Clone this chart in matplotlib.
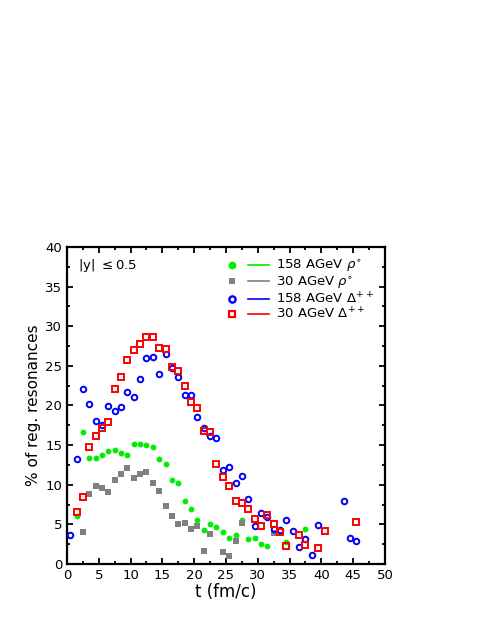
import matplotlib
matplotlib.use('Agg')
import matplotlib.pyplot as plt
from matplotlib.lines import Line2D
from matplotlib.legend_handler import HandlerTuple
from matplotlib.ticker import MultipleLocator

# 158 AGeV rho0 (green filled circles)
t_rho158 = [1.5, 2.5, 3.5, 4.5, 5.5, 6.5, 7.5, 8.5, 9.5, 10.5, 11.5, 12.5, 13.5, 14.5, 15.5,
            16.5, 17.5, 18.5, 19.5, 20.5, 21.5, 22.5, 23.5, 24.5, 25.5, 26.5, 27.5, 28.5,
            29.5, 30.5, 31.5, 34.5, 37.5]
rho158 = [6.1, 16.6, 13.4, 13.4, 13.7, 14.2, 14.35, 14.0, 13.7, 15.2, 15.1, 15.0, 14.8, 13.3, 12.6,
          10.6, 10.2, 8.0, 7.0, 5.55, 4.3, 5.1, 4.7, 4.0, 3.3, 3.7, 5.55, 3.2,
          3.3, 2.5, 2.3, 2.8, 4.4]

# 30 AGeV rho0 (grey filled squares)
t_rho30 = [2.5, 3.5, 4.5, 5.5, 6.5, 7.5, 8.5, 9.5, 10.5, 11.5, 12.5, 13.5, 14.5, 15.5,
           16.5, 17.5, 18.5, 19.5, 20.5, 21.5, 22.5, 24.5, 25.5, 26.5, 27.5, 32.5]
rho30 = [4.1, 8.8, 9.85, 9.55, 9.1, 10.6, 11.4, 12.1, 10.9, 11.3, 11.6, 10.2, 9.2, 7.3,
         6.05, 5.1, 5.2, 4.4, 4.75, 1.7, 3.75, 1.5, 0.95, 2.85, 5.2, 3.95]

# 158 AGeV Delta++ (blue open circles)
t_del158 = [0.5, 1.5, 2.5, 3.5, 4.5, 5.5, 6.5, 7.5, 8.5, 9.5, 10.5, 11.5, 12.5, 13.5, 14.5,
            15.5, 16.5, 17.5, 18.5, 19.5, 20.5, 21.5, 22.5, 23.5, 24.5, 25.5, 26.5, 27.5,
            28.5, 29.5, 30.5, 31.5, 32.5, 33.5, 34.5, 35.5, 36.5, 37.5, 38.5, 39.5,
            43.5, 44.5, 45.5]
del158 = [3.7, 13.2, 22.1, 20.2, 18.0, 17.6, 19.9, 19.3, 19.8, 21.7, 21.1, 23.3, 26.0, 26.1, 24.0,
          26.5, 24.7, 23.6, 21.3, 21.3, 18.6, 17.2, 16.1, 15.9, 11.8, 12.2, 10.2, 11.1,
          8.2, 4.8, 6.4, 5.9, 4.4, 4.3, 5.5, 4.2, 2.2, 3.2, 1.1, 4.9,
          7.9, 3.3, 2.9]

# 30 AGeV Delta++ (red open squares)
t_del30 = [1.5, 2.5, 3.5, 4.5, 5.5, 6.5, 7.5, 8.5, 9.5, 10.5, 11.5, 12.5, 13.5, 14.5, 15.5,
           16.5, 17.5, 18.5, 19.5, 20.5, 21.5, 22.5, 23.5, 24.5, 25.5, 26.5, 27.5, 28.5,
           29.5, 30.5, 31.5, 32.5, 33.5, 34.5, 36.5, 37.5, 39.5, 40.5, 45.5]
del30 = [6.55, 8.45, 14.8, 16.15, 17.1, 17.95, 22.1, 23.6, 25.8, 27.0, 27.8, 28.6, 28.6, 27.2, 27.1,
         24.8, 24.35, 22.5, 20.4, 19.7, 16.8, 16.6, 12.6, 11.0, 9.85, 7.95, 7.65, 6.9,
         5.7, 4.75, 6.2, 5.1, 4.0, 2.25, 3.7, 2.35, 2.0, 4.15, 5.25]

labels = [r'158 AGeV $\rho^{\circ}$', r'30 AGeV $\rho^{\circ}$',
          r'158 AGeV $\Delta^{++}$', r'30 AGeV $\Delta^{++}$']

plt.rcParams['font.family'] = ['DejaVu Sans']
plt.rcParams['mathtext.fontset'] = 'dejavusans'

GREEN, GREY, BLUE, RED = '#00ee00', '#808080', '#0000ff', '#ff0000'

fig = plt.figure(figsize=(4.88, 6.32), dpi=100)
ax = fig.add_axes([0.1373, 0.1076, 0.6516, 0.5016])

ax.plot(t_rho158, rho158, ls='none', marker='o', color=GREEN, ms=4.2, mew=0, zorder=3)
ax.plot(t_rho30, rho30, ls='none', marker='s', color=GREY, ms=4.1, mew=0, zorder=4)
ax.plot(t_del158, del158, ls='none', marker='o', mfc='none', mec=BLUE, ms=4.0, mew=1.4, zorder=5)
ax.plot(t_del30, del30, ls='none', marker='s', mfc='none', mec=RED, ms=3.8, mew=1.4, zorder=6)

ax.set_xlim(0, 50)
ax.set_ylim(0, 40)
ax.xaxis.set_major_locator(MultipleLocator(5))
ax.xaxis.set_minor_locator(MultipleLocator(2.5))
ax.yaxis.set_major_locator(MultipleLocator(5))
ax.yaxis.set_minor_locator(MultipleLocator(2.5))
ax.tick_params(which='both', direction='in', top=True, right=True, labelsize=9.5, width=1.3)
ax.tick_params(which='major', length=4)
ax.tick_params(which='minor', length=2.5)
for sp in ax.spines.values():
    sp.set_linewidth(1.6)

ax.set_xlabel('t (fm/c)', fontsize=12, labelpad=1)
ax.set_ylabel('% of reg. resonances', fontsize=11, labelpad=3)

ax.text(0.035, 0.943, r'$|$y$|$ $\leq$0.5', transform=ax.transAxes, fontsize=9.5, va='center')

# legend: marker then line segment (legend markers a bit bigger than in the plot)
handles = [
    (Line2D([], [], ls='none', marker='o', color=GREEN, ms=5.6, mew=0),
     Line2D([], [], color=GREEN, lw=1.2)),
    (Line2D([], [], ls='none', marker='s', color=GREY, ms=5.0, mew=0),
     Line2D([], [], color=GREY, lw=1.2)),
    (Line2D([], [], ls='none', marker='o', mfc='none', mec=BLUE, ms=4.5, mew=1.7),
     Line2D([], [], color=BLUE, lw=1.2)),
    (Line2D([], [], ls='none', marker='s', mfc='none', mec=RED, ms=4.3, mew=1.6),
     Line2D([], [], color=RED, lw=1.2)),
]
ax.legend(handles, labels, handler_map={tuple: HandlerTuple(ndivide=None, pad=0.4)},
          loc='upper right', bbox_to_anchor=(1.0, 1.0), frameon=False, fontsize=9.5,
          handlelength=3.6, handletextpad=0.5, labelspacing=0.02, borderpad=0.35)

fig.savefig('out.png', dpi=100)
